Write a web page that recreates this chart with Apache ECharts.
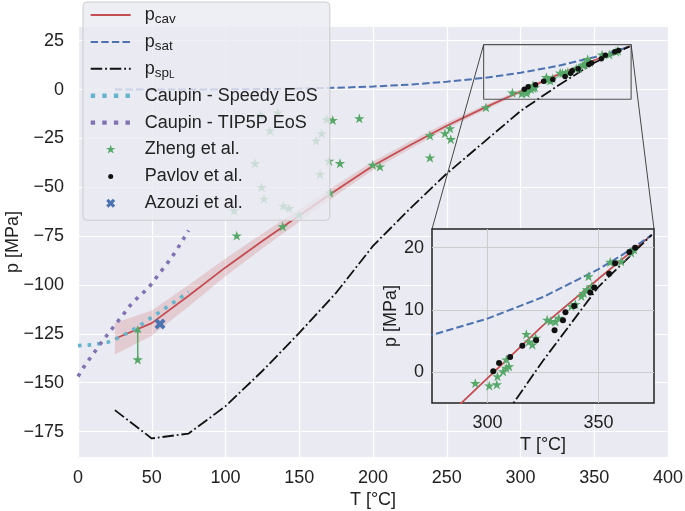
<!DOCTYPE html>
<html><head><meta charset="utf-8">
<script src="https://cdn.jsdelivr.net/npm/echarts@6/dist/echarts.min.js"></script>
<style>html,body{margin:0;padding:0;background:#fff}#c{width:685px;height:511px}</style>
</head><body><div id="c"></div>
<script>
// ---- axes ----
const xRange = [0, 400];
const yRange = [-188, 32];
const xTicks = [0, 50, 100, 150, 200, 250, 300, 350, 400];
const yTicks = [-175, -150, -125, -100, -75, -50, -25, 0, 25];
const insetXRange = [275, 375];
const insetYRange = [-5, 23];
const insetXTicks = [300, 350];
const insetYTicks = [0, 10, 20];

// ---- curves ----
const cavT = [25, 50, 75, 100, 125, 150, 175, 200, 225, 250, 275, 300, 325, 350, 374];
const cavP = [-127.5, -119.5, -105.5, -91, -77.5, -64.5, -51.5, -39, -28.5, -18.5, -9.5, -1, 7.5, 15, 22.06];
const cavBand = [8, 6.5, 5.5, 4.5, 3.8, 3.2, 2.6, 2.2, 1.9, 1.6, 1.3, 1.0, 0.8, 0.5, 0.2];
const satT = [25, 50, 75, 100, 125, 150, 175, 200, 225, 250, 275, 300, 325, 350, 360, 370, 374];
const satP = [0.003, 0.012, 0.039, 0.101, 0.232, 0.476, 0.892, 1.555, 2.548, 3.976, 5.942, 8.588, 12.05, 16.53, 18.67, 21.04, 22.06];
const spT = [25, 50, 75, 100, 125, 150, 175, 200, 225, 250, 275, 300, 325, 350, 374];
const spP = [-164, -178.5, -176, -162, -144, -124.5, -104, -80, -61, -43, -27, -11, 1.8, 13.7, 22.06];
const speedyT = [0, 10, 20, 25, 30, 40, 50, 60, 70, 75];
const speedyP = [-131, -130.6, -129.3, -127.9, -126, -121.7, -116.6, -111.4, -106.2, -103.5];
const tip5pT = [0, 5, 10, 15, 20, 25, 30, 35, 40, 45, 50, 55, 60, 65, 70, 75];
const tip5pP = [-146.8, -140.7, -135.6, -130.3, -125.4, -120.5, -115.8, -110.8, -106.8, -103.4, -99.4, -94.2, -89.5, -84.2, -78.3, -72.1];

// ---- experiments ----
const zhengT = [123.8, 135.4, 130.2, 168.6, 172.7, 190.7, 165.2, 161.4, 120, 170.2, 177.6, 164.1, 124.5, 126.1, 139.2, 143.1, 170.8, 150, 138.8, 107.6, 105.8, 199.8, 204.7, 238.6, 248.8, 252.2, 252.7, 238.6, 276.6, 40.5,
  294.5, 300.8, 304.2, 304.5, 307, 308.5, 309.7, 308.5, 317.5, 318.7, 320.2, 321.7, 326.9, 328.4, 330.6, 332.1, 337.8, 339.6, 342.3, 343.3, 344.8, 347, 345.5, 355.3, 360.2, 364.7, 366];
const zhengP = [-13.3, -12.1, -21.3, -15.5, -15.9, -15.0, -22.7, -26.4, -38, -36.8, -38, -43.6, -50.2, -56.2, -59.8, -61, -53, -64.4, -70.3, -75, -62.2, -38.8, -39.7, -23.8, -22.7, -20.1, -25.7, -35.1, -9.4, -138.4,
  -1.9, -2.3, -2.1, -0.8, 0, 0.55, 0.8, 1.9, 6.0, 4.8, 4.3, 5.4, 8.3, 8.1, 8.0, 8.6, 10.5, 10.8, 12.1, 12.6, 13.2, 13.7, 15.3, 17.6, 17.7, 19.1, 19.6];
const pavlovT = [302.6, 305.2, 310.2, 315.7, 321.9, 330.2, 334, 335.1, 339.1, 346.3, 348.1, 354.8, 357.5, 363.9, 366.5];
const pavlovP = [0.1, 1.45, 2.4, 4.2, 5.1, 6.7, 8.3, 9.6, 10.6, 12.8, 13.6, 15.8, 17.5, 19.3, 20.0];
const azouziT = [55.6];
const azouziP = [-120];
const errT = [40.5, 40.5];
const errP = [-138.4, -122.5];

const zip = (a, b) => a.map((v, i) => [v, b[i]]);
const FONT = 'Liberation Sans, Arial, sans-serif';
const TXT = '#222';
const C = {red: '#C44E52', blue: '#4C72B0', green: '#55A868', purple: '#8172B2', cyan: '#64B5CD'};

function starPath(pad) {
  let s = '';
  for (let k = 0; k < 10; k++) {
    const a = (-90 + 36 * k) * Math.PI / 180;
    const r = k % 2 ? 0.381 : 1;
    s += (k ? 'L' : 'M') + (r * Math.cos(a)).toFixed(4) + ' ' + (r * Math.sin(a)).toFixed(4) + ' ';
  }
  s += 'Z M' + (-pad) + ' ' + (-pad) + ' M' + pad + ' ' + pad;
  return 'path://' + s;
}
function xPath(pad) {
  return 'path://M-0.25 -0.5 L0 -0.25 L0.25 -0.5 L0.5 -0.25 L0.25 0 L0.5 0.25 L0.25 0.5 L0 0.25 L-0.25 0.5 L-0.5 0.25 L-0.25 0 L-0.5 -0.25 Z M' + (-pad) + ' ' + (-pad) + ' M' + pad + ' ' + pad;
}
function dotPath(pad) {
  return 'path://M1 0 A1 1 0 1 1 -1 0 A1 1 0 1 1 1 0 Z M' + (-pad) + ' ' + (-pad) + ' M' + pad + ' ' + pad;
}
const fmtTick = v => (v < 0 ? '\u2212' + Math.abs(v) : String(v));

const chart = echarts.init(document.getElementById('c'), null, {renderer: 'canvas'});

const axisLbl = (margin, custom) => ({margin, fontSize: 18, color: TXT, fontFamily: FONT, formatter: fmtTick, customValues: custom, showMinLabel: true, showMaxLabel: true, hideOverlap: false});
const nameStyle = {fontSize: 18, color: TXT, fontFamily: FONT};

const lineS = (name, data, color, width, type, xi, extra) => Object.assign({
  type: 'line', name, data, xAxisIndex: xi, yAxisIndex: xi, symbol: 'none', showSymbol: false,
  lineStyle: {color, width, type, cap: 'butt'}, itemStyle: {color}, z: 3, silent: true, clip: true
}, extra || {});

const bandUpper = cavP.map((v, i) => v + cavBand[i]);
const bandLower = cavP.map((v, i) => v - cavBand[i]);
const noSym = {opacity: 0, color: 'rgba(0,0,0,0)', borderWidth: 0};

const option = {
  animation: false,
  backgroundColor: '#fff',
  grid: [
    {left: 78, top: 27, width: 590, height: 430, show: true, backgroundColor: '#EAEAF2', borderWidth: 0, containLabel: false, outerBoundsMode: 'none'},
    {left: 432, top: 229, width: 222, height: 174, show: true, backgroundColor: '#EAEAF2', borderColor: '#222', borderWidth: 1.5, zlevel: 1, containLabel: false, outerBoundsMode: 'none'}
  ],
  xAxis: [
    {gridIndex: 0, type: 'value', min: xRange[0], max: xRange[1], interval: 50,
      axisLine: {show: false}, axisTick: {show: false},
      splitLine: {show: true, lineStyle: {color: '#fff', width: 1.2}},
      axisLabel: axisLbl(12, xTicks),
      name: 'T [°C]', nameLocation: 'middle', nameGap: 34, nameMoveOverlap: false, nameTextStyle: nameStyle},
    {gridIndex: 1, type: 'value', min: insetXRange[0], max: insetXRange[1], zlevel: 1,
      axisLine: {show: false}, axisTick: {show: false, customValues: insetXTicks},
      splitLine: {show: true, lineStyle: {color: '#cccccc', width: 1}},
      axisLabel: axisLbl(11, insetXTicks),
      name: 'T [°C]', nameLocation: 'middle', nameGap: 33, nameMoveOverlap: false, nameTextStyle: nameStyle}
  ],
  yAxis: [
    {gridIndex: 0, type: 'value', min: yRange[0], max: yRange[1],
      axisLine: {show: false}, axisTick: {show: false, customValues: yTicks},
      splitLine: {show: true, lineStyle: {color: '#fff', width: 1.2}},
      axisLabel: axisLbl(14, yTicks),
      name: 'p [MPa]', nameLocation: 'middle', nameGap: 56, nameRotate: 90, nameMoveOverlap: false, nameTextStyle: nameStyle},
    {gridIndex: 1, type: 'value', min: insetYRange[0], max: insetYRange[1], zlevel: 1,
      axisLine: {show: false}, axisTick: {show: false, customValues: insetYTicks},
      splitLine: {show: true, lineStyle: {color: '#cccccc', width: 1}},
      axisLabel: axisLbl(8, insetYTicks),
      name: 'p [MPa]', nameLocation: 'middle', nameGap: 32, nameRotate: 90, nameMoveOverlap: false, nameTextStyle: nameStyle}
  ],
  legend: {
    left: 83, top: 2, orient: 'vertical', selectedMode: false, z: 20,
    backgroundColor: 'rgba(234,234,242,0.8)', borderColor: '#cccccc', borderWidth: 1, borderRadius: 4,
    padding: [2, 12, 6, 5.5], itemGap: 4.9, itemWidth: 40, itemHeight: 14,
    textStyle: {fontSize: 18, lineHeight: 22, color: TXT, fontFamily: FONT, padding: [0, 0, 0, 9],
      rich: {
        p: {fontSize: 18, lineHeight: 22, color: TXT, fontFamily: FONT},
        s: {fontSize: 13.5, lineHeight: 12, verticalAlign: 'bottom', color: TXT, fontFamily: FONT},
        ss: {fontSize: 10, lineHeight: 4, verticalAlign: 'bottom', color: TXT, fontFamily: FONT}
      }},
    formatter: function (n) {
      if (n === 'pcav') return '{p|p}{s|cav}';
      if (n === 'psat') return '{p|p}{s|sat}';
      if (n === 'pspL') return '{p|p}{s|sp}{ss|L}';
      return n;
    },
    data: [
      {name: 'pcav', itemStyle: noSym},
      {name: 'psat', itemStyle: noSym},
      {name: 'pspL', itemStyle: noSym},
      {name: 'Caupin - Speedy EoS', itemStyle: noSym, lineStyle: {width: 4.4, type: [4.4, 7.2], cap: 'butt'}},
      {name: 'Caupin - TIP5P EoS', itemStyle: noSym, lineStyle: {width: 4.4, type: [4.4, 7.2], cap: 'butt'}},
      {name: 'Zheng et al.', icon: starPath(1.4)},
      {name: 'Pavlov et al.', icon: dotPath(2.8)},
      {name: 'Azouzi et al.', icon: xPath(0.78)}]
  },
  series: [
    {type: 'custom', name: 'band', xAxisIndex: 0, yAxisIndex: 0, silent: true, z: 1, clip: true,
      data: [[cavT[0], cavP[0]]],
      renderItem: function (params, api) {
        const pts = [];
        for (let i = 0; i < cavT.length; i++) pts.push(api.coord([cavT[i], bandUpper[i]]));
        for (let i = cavT.length - 1; i >= 0; i--) pts.push(api.coord([cavT[i], bandLower[i]]));
        return {type: 'polygon', shape: {points: pts}, style: {fill: 'rgba(196,78,82,0.2)'}};
      }},
    lineS('pcav', zip(cavT, cavP), C.red, 1.8, 'solid', 0),
    lineS('psat', zip(satT, satP), C.blue, 2, [7.4, 3.2], 0),
    lineS('pspL', zip(spT, spP), '#111', 1.8, [11.5, 2.9, 1.8, 2.9], 0),
    lineS('Caupin - Speedy EoS', zip(speedyT, speedyP), C.cyan, 3.6, [3.6, 6], 0),
    lineS('Caupin - TIP5P EoS', zip(tip5pT, tip5pP), C.purple, 3.6, [3.6, 6], 0),
    lineS('errbar', [{value: [errT[0], errP[0]], symbol: 'none'}, {value: [errT[1], errP[1]], symbol: 'triangle', symbolSize: 7}], C.green, 1.5, 'solid', 0, {showSymbol: true, symbol: 'none', z: 3}),
    {type: 'scatter', name: 'Zheng et al.', xAxisIndex: 0, yAxisIndex: 0, data: zip(zhengT, zhengP), symbol: starPath(1), symbolSize: 11, itemStyle: {color: C.green, opacity: 1}, z: 4, silent: true},
    {type: 'scatter', name: 'Pavlov et al.', xAxisIndex: 0, yAxisIndex: 0, data: zip(pavlovT, pavlovP), symbol: 'circle', symbolSize: 5.5, itemStyle: {color: '#111', opacity: 1}, z: 5, silent: true},
    {type: 'scatter', name: 'Azouzi et al.', xAxisIndex: 0, yAxisIndex: 0, data: zip(azouziT, azouziP), symbol: xPath(0.5), symbolSize: 11, itemStyle: {color: C.blue, opacity: 1}, z: 5, silent: true},
    lineS('zoombox', [[insetXRange[0], insetYRange[1]], [insetXRange[1], insetYRange[1]], [insetXRange[1], insetYRange[0]], [insetXRange[0], insetYRange[0]], [insetXRange[0], insetYRange[1]]], '#555', 1.1, 'solid', 0, {z: 6, clip: false}),
    // inset
    lineS('pcav', zip(cavT, cavP), C.red, 1.8, 'solid', 1, {zlevel: 1}),
    lineS('psat', zip(satT, satP), C.blue, 2, [7.4, 3.2], 1, {zlevel: 1}),
    lineS('pspL', zip(spT, spP), '#111', 1.8, [11.5, 2.9, 1.8, 2.9], 1, {zlevel: 1}),
    {type: 'scatter', name: 'Zheng et al.', xAxisIndex: 1, yAxisIndex: 1, zlevel: 1, data: zip(zhengT, zhengP), symbol: starPath(1), symbolSize: 11, itemStyle: {color: C.green, opacity: 1}, z: 4, silent: true, clip: true},
    {type: 'scatter', name: 'Pavlov et al.', xAxisIndex: 1, yAxisIndex: 1, zlevel: 1, data: zip(pavlovT, pavlovP), symbol: 'circle', symbolSize: 6, itemStyle: {color: '#111', opacity: 1}, z: 5, silent: true, clip: true}
  ]
};
chart.setOption(option);

const a1 = chart.convertToPixel({xAxisIndex: 0, yAxisIndex: 0}, [insetXRange[0], insetYRange[1]]);
const a2 = chart.convertToPixel({xAxisIndex: 1, yAxisIndex: 1}, [insetXRange[0], insetYRange[1]]);
const b1 = chart.convertToPixel({xAxisIndex: 0, yAxisIndex: 0}, [insetXRange[1], insetYRange[1]]);
const b2 = chart.convertToPixel({xAxisIndex: 1, yAxisIndex: 1}, [insetXRange[1], insetYRange[1]]);
chart.setOption({graphic: [
  {type: 'line', z: 100, silent: true, shape: {x1: a1[0], y1: a1[1], x2: a2[0], y2: a2[1]}, style: {stroke: '#333', lineWidth: 0.9}},
  {type: 'line', z: 100, silent: true, shape: {x1: b1[0], y1: b1[1], x2: b2[0], y2: b2[1]}, style: {stroke: '#333', lineWidth: 0.9}}
]});
</script>
</body></html>
